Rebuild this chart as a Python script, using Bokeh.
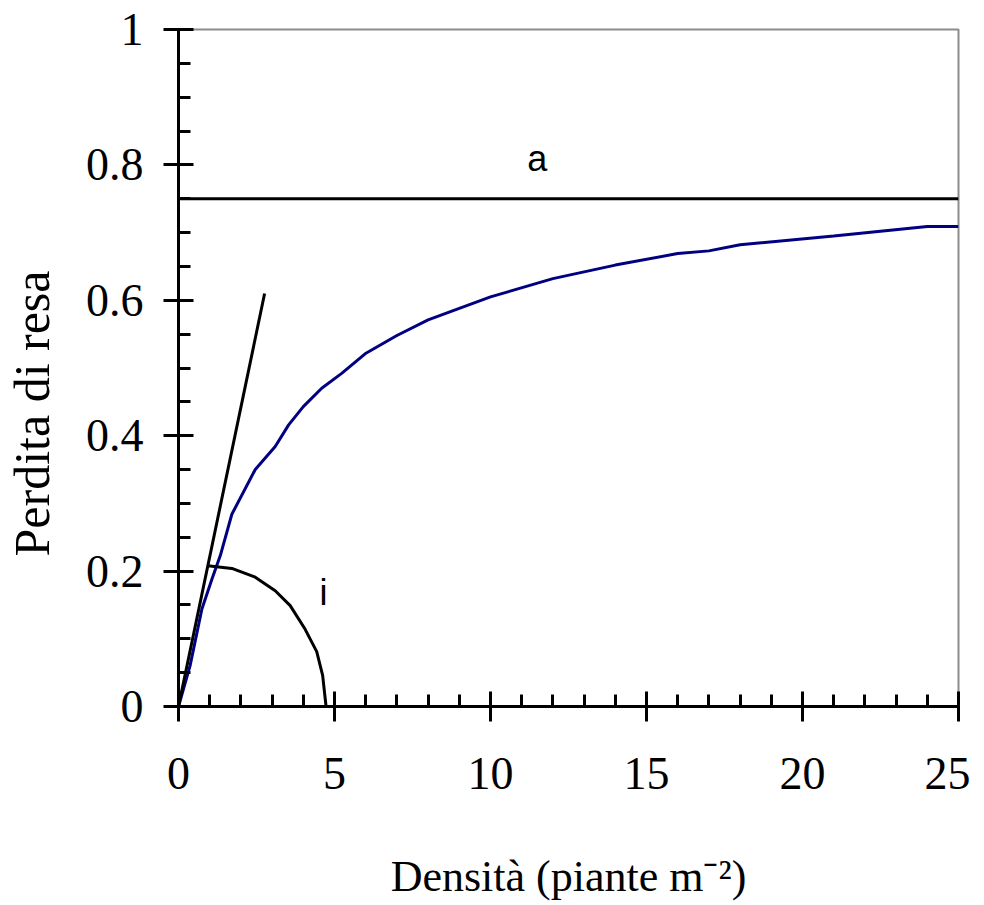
from bokeh.plotting import figure
from bokeh.models import FixedTicker, Range1d, Title
from bokeh.core.properties import value
from bokeh.embed import file_html
from bokeh.resources import INLINE

# ---- data ----
x_major_ticks = [0, 5, 10, 15, 20, 25]
x_minor_ticks = [i for i in range(0, 26)]
y_major_ticks = [0, 0.2, 0.4, 0.6, 0.8, 1.0]
y_minor_ticks = [round(i * 0.05, 2) for i in range(0, 21)]
y_tick_labels = {0: "0", 0.2: "0.2", 0.4: "0.4", 0.6: "0.6", 0.8: "0.8", 1.0: "1"}

# yield-loss curve (blue)
curve_x = [0, 0.37, 0.75, 1.07, 1.34, 1.71, 2.46, 3.10, 3.53, 4.0, 4.59, 5.23,
           5.98, 7.0, 8.0, 10.0, 12.0, 14.0, 16.0, 17.0, 18.0, 21.0, 24.0, 25.0]
curve_y = [0, 0.06, 0.144, 0.188, 0.223, 0.284, 0.35, 0.384, 0.416, 0.443, 0.47, 0.492,
           0.521, 0.548, 0.571, 0.605, 0.632, 0.652, 0.669, 0.673, 0.682, 0.695, 0.709, 0.709]

# initial slope line (i)
slope_x = [0, 2.76]
slope_y = [0, 0.61]

# asymptote (a)
asym_x = [0, 25]
asym_y = [0.75, 0.75]

# arc marking the slope i
arc_x = [0.94, 1.71, 2.46, 3.10, 3.58, 4.06, 4.43, 4.62, 4.73]
arc_y = [0.208, 0.204, 0.191, 0.171, 0.149, 0.114, 0.081, 0.046, 0.0]

# annotation labels
label_text = ["a", "i"]
label_x = [11.5, 4.65]
label_y = [0.81, 0.168]

x_title = "Densità (piante m\u207b\u00b2)"
y_title = "Perdita di resa"

serif = "Liberation Serif"

p = figure(width=970, height=903,
           x_range=Range1d(0, 25), y_range=Range1d(0, 1),
           output_backend="svg", toolbar_location=None,
           min_border_left=178, min_border_right=12,
           min_border_top=29, min_border_bottom=195)

p.xgrid.visible = False
p.ygrid.visible = False
p.background_fill_color = "white"
p.border_fill_color = "white"
p.outline_line_color = "#8c8c8c"
p.outline_line_width = 2

p.xaxis.ticker = FixedTicker(ticks=x_major_ticks, minor_ticks=x_minor_ticks)
p.yaxis.ticker = FixedTicker(ticks=y_major_ticks, minor_ticks=y_minor_ticks)
p.yaxis.major_label_overrides = y_tick_labels

for ax in (p.xaxis, p.yaxis):
    ax.axis_line_width = 3
    ax.axis_line_color = "black"
    ax.major_tick_line_width = 3
    ax.minor_tick_line_width = 3
    ax.major_tick_line_color = "black"
    ax.minor_tick_line_color = "black"
    ax.major_tick_in = 15
    ax.major_tick_out = 15
    ax.minor_tick_in = 12
    ax.minor_tick_out = 0
    ax.major_label_text_font = serif
    ax.major_label_text_font_size = "46px"
    ax.major_label_text_color = "black"
    ax.axis_label_text_font = serif
    ax.axis_label_text_font_style = "normal"
    ax.axis_label_text_color = "black"

p.xaxis.major_label_standoff = 36
p.yaxis.major_label_standoff = 20
p.xaxis.axis_label = x_title
p.xaxis.axis_label_text_font_size = "44px"
p.xaxis.axis_label_standoff = 60

# invisible spacer label to push the side title further out
p.yaxis.axis_label = " "
p.yaxis.axis_label_text_font_size = "1px"
p.yaxis.axis_label_standoff = 19

# y title as a side title so it can sit below the frame centre like the original
p.add_layout(Title(text=y_title, align="left", offset=150, standoff=0,
                   text_font=serif, text_font_size="50px",
                   text_font_style="normal", text_color="black"), "left")

p.line(asym_x, asym_y, line_color="black", line_width=3)
p.line(curve_x, curve_y, line_color="#000080", line_width=3)
p.line(slope_x, slope_y, line_color="black", line_width=3)
p.line(arc_x, arc_y, line_color="black", line_width=3)

p.text(x=label_x, y=label_y, text=label_text,
       text_font=value("Liberation Sans"), text_font_size="36px",
       text_align="center", text_baseline="alphabetic", text_color="black")

open("out.html", "w").write(file_html(p, INLINE))
